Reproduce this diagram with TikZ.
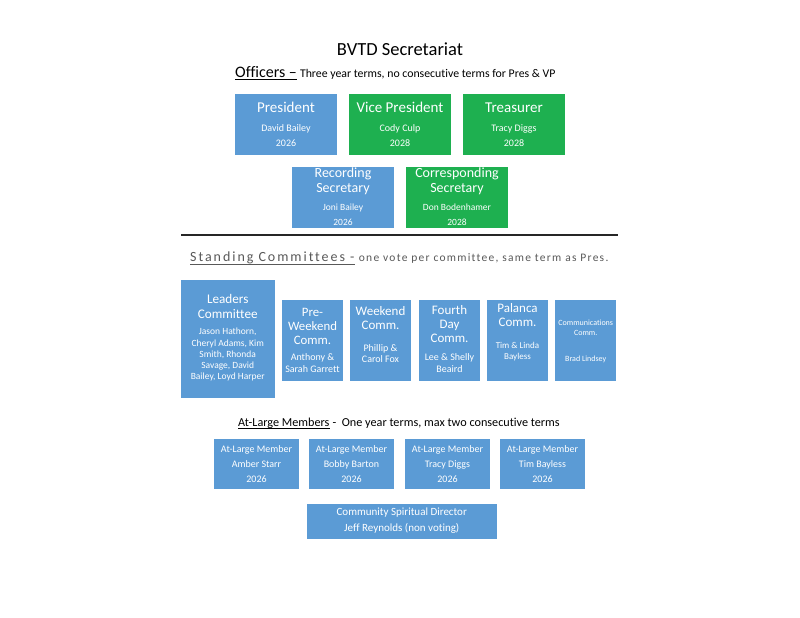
\documentclass[tikz,border=0pt]{standalone}
\usepackage{fontspec}
\setmainfont{Carlito}[Ligatures={NoCommon,NoRequired,NoContextual}]
\newfontfamily\spacedfont{Carlito}[LetterSpace=14,Ligatures={NoCommon,NoRequired,NoContextual}]
\newfontfamily\spacedsmall{Carlito}[LetterSpace=11,Ligatures={NoCommon,NoRequired,NoContextual}]
\definecolor{offblue}{RGB}{91,155,213}
\definecolor{offgreen}{RGB}{30,176,80}
\definecolor{hdrgrey}{RGB}{89,89,89}
\newcommand\txtline[5]{\node[txt,font=\fontsize{#4}{#4}\selectfont] (#1) at (#2,#3) {#5};}
\begin{document}
\begin{tikzpicture}[x=1pt,y=-1pt,
  bbox/.style={fill=offblue,draw=none,inner sep=0pt},
  gbox/.style={fill=offgreen,draw=none,inner sep=0pt},
  offsize/.style={minimum width=102pt,minimum height=61pt},
  comsize/.style={minimum width=61pt,minimum height=80.5pt},
  alsize/.style={minimum width=85pt,minimum height=50pt},
  txt/.style={text=white,inner sep=0pt,anchor=base},
  hdr/.style={text=black,inner sep=0pt,anchor=base west},
  uline/.style={draw=black,line width=1pt}]
\useasboundingbox[fill=white] (0,0) rectangle (800,618);

% Title
\node[inner sep=0pt,anchor=base,font=\fontsize{18.5}{20}\selectfont] (title) at (400,56) {BVTD Secretariat};

% Officers header
\node[hdr,font=\fontsize{16}{18}\selectfont] (offh) at (235,77.3) {Officers –};
\node[hdr,font=\fontsize{11.8}{14}\selectfont] (offt) at (offh.base east) {\ Three year terms, no consecutive terms for Pres \& VP};
\draw[uline] ([yshift=-2pt]offh.base west) -- ([yshift=-2pt]offh.base east);

% Officer boxes
\node[bbox,offsize] (pres) at (286,124.5) {};
\node[gbox,offsize] (vp) at (400,124.5) {};
\node[gbox,offsize] (treas) at (514,124.5) {};
\node[bbox,offsize] (recs) at (343,197.5) {};
\node[gbox,offsize] (cors) at (457,197.5) {};

\txtline{presT}{286}{112.7}{15}{President}
\txtline{presN}{286}{131.7}{10}{David Bailey}
\txtline{presY}{286}{146.7}{10}{2026}
\txtline{vpT}{400}{112.7}{15}{Vice President}
\txtline{vpN}{400}{131.7}{10}{Cody Culp}
\txtline{vpY}{400}{146.7}{10}{2028}
\txtline{trT}{514}{112.7}{15}{Treasurer}
\txtline{trN}{514}{131.7}{10}{Tracy Diggs}
\txtline{trY}{514}{146.7}{10}{2028}

\txtline{recT1}{343}{177}{14}{Recording}
\txtline{recT2}{343}{192}{14}{Secretary}
\txtline{recN}{343}{210}{9.5}{Joni Bailey}
\txtline{recY}{343}{225.5}{9.5}{2026}
\txtline{corT1}{457}{177}{14}{Corresponding}
\txtline{corT2}{457}{192}{14}{Secretary}
\txtline{corN}{457}{210}{9.5}{Don Bodenhamer}
\txtline{corY}{457}{225.5}{9.5}{2028}

% Separator
\coordinate (sepL) at (181,235);
\coordinate (sepR) at (618,235);
\draw[line width=2pt,draw=black!85] (sepL) -- (sepR);

% Standing committees header
\node[hdr,text=hdrgrey,font=\spacedfont\fontsize{14}{16}\selectfont] (stah) at (190,261.7) {Standing Committees -};
\node[hdr,text=hdrgrey,font=\spacedsmall\fontsize{11.5}{13}\selectfont] (stat) at ([xshift=4pt]stah.base east) {one vote per committee, same term as Pres.};
\draw[draw=hdrgrey,line width=1pt] ([yshift=-2.5pt]stah.base west) -- ([yshift=-2.5pt]stah.base east);

% Committee boxes
\node[bbox,minimum width=93.5pt,minimum height=118pt] (lead) at (227.75,339) {};
\node[bbox,comsize] (prew) at (312.5,340.25) {};
\node[bbox,comsize] (week) at (380.5,340.25) {};
\node[bbox,comsize] (fourth) at (449.5,340.25) {};
\node[bbox,comsize] (pal) at (517.5,340.25) {};
\node[bbox,comsize] (comm) at (585.75,340.25) {};

\txtline{leadT1}{227.75}{303.3}{13.2}{Leaders}
\txtline{leadT2}{227.75}{318}{13.2}{Committee}
\txtline{leadN1}{227.75}{334.3}{9.5}{Jason Hathorn,}
\txtline{leadN2}{227.75}{346}{9.5}{Cheryl Adams, Kim}
\txtline{leadN3}{227.75}{357.7}{9.5}{Smith, Rhonda}
\txtline{leadN4}{227.75}{368.9}{9.5}{Savage, David}
\txtline{leadN5}{227.75}{379.6}{9.5}{Bailey, Loyd Harper}

\txtline{prewT1}{312.5}{316}{12.8}{Pre-}
\txtline{prewT2}{312.5}{330.3}{12.8}{Weekend}
\txtline{prewT3}{312.5}{344.3}{12.8}{Comm.}
\txtline{prewN1}{312.5}{360}{10}{Anthony \&}
\txtline{prewN2}{312.5}{372.7}{10}{Sarah Garrett}

\txtline{weekT1}{380.5}{315}{13}{Weekend}
\txtline{weekT2}{380.5}{329.3}{13}{Comm.}
\txtline{weekN1}{380.5}{351}{10}{Phillip \&}
\txtline{weekN2}{380.5}{362}{10}{Carol Fox}

\txtline{fourT1}{449.5}{314.3}{13}{Fourth}
\txtline{fourT2}{449.5}{328.3}{13}{Day}
\txtline{fourT3}{449.5}{342}{13}{Comm.}
\txtline{fourN1}{449.5}{360.3}{10}{Lee \& Shelly}
\txtline{fourN2}{449.5}{372}{10}{Beaird}

\txtline{palT1}{517.5}{312}{13}{Palanca}
\txtline{palT2}{517.5}{326}{13}{Comm.}
\txtline{palN1}{517.5}{348}{9}{Tim \& Linda}
\txtline{palN2}{517.5}{359}{9}{Bayless}

\txtline{comT1}{585.75}{325}{8}{Communications}
\txtline{comT2}{585.75}{335}{8}{Comm.}
\txtline{comN}{585.75}{361}{8}{Brad Lindsey}

% At-Large header
\node[hdr,font=\fontsize{12.2}{14}\selectfont] (alh) at (238,426.7) {At-Large Members};
\node[hdr,font=\fontsize{12.2}{14}\selectfont] (alt) at (alh.base east) {\ -\ \ One year terms, max two consecutive terms};
\draw[line width=0.9pt] ([yshift=-1.8pt]alh.base west) -- ([yshift=-1.8pt]alh.base east);

% At-Large boxes
\node[bbox,alsize] (al1) at (256.5,464) {};
\node[bbox,alsize] (al2) at (351.5,464) {};
\node[bbox,alsize] (al3) at (447.5,464) {};
\node[bbox,alsize] (al4) at (542.5,464) {};

\txtline{al1T}{256.5}{452.3}{10}{At-Large Member}
\txtline{al1N}{256.5}{467.3}{10}{Amber Starr}
\txtline{al1Y}{256.5}{482.7}{10}{2026}
\txtline{al2T}{351.5}{452.3}{10}{At-Large Member}
\txtline{al2N}{351.5}{467.3}{10}{Bobby Barton}
\txtline{al2Y}{351.5}{482.7}{10}{2026}
\txtline{al3T}{447.5}{452.3}{10}{At-Large Member}
\txtline{al3N}{447.5}{467.3}{10}{Tracy Diggs}
\txtline{al3Y}{447.5}{482.7}{10}{2026}
\txtline{al4T}{542.5}{452.3}{10}{At-Large Member}
\txtline{al4N}{542.5}{467.3}{10}{Tim Bayless}
\txtline{al4Y}{542.5}{482.7}{10}{2026}

% Community Spiritual Director
\node[bbox,minimum width=189.5pt,minimum height=35pt] (csd) at (401.75,521.5) {};
\txtline{csdT}{401.75}{515.7}{11}{Community Spiritual Director}
\txtline{csdN}{401.75}{531}{11}{Jeff Reynolds (non voting)}
\end{tikzpicture}
\end{document}
